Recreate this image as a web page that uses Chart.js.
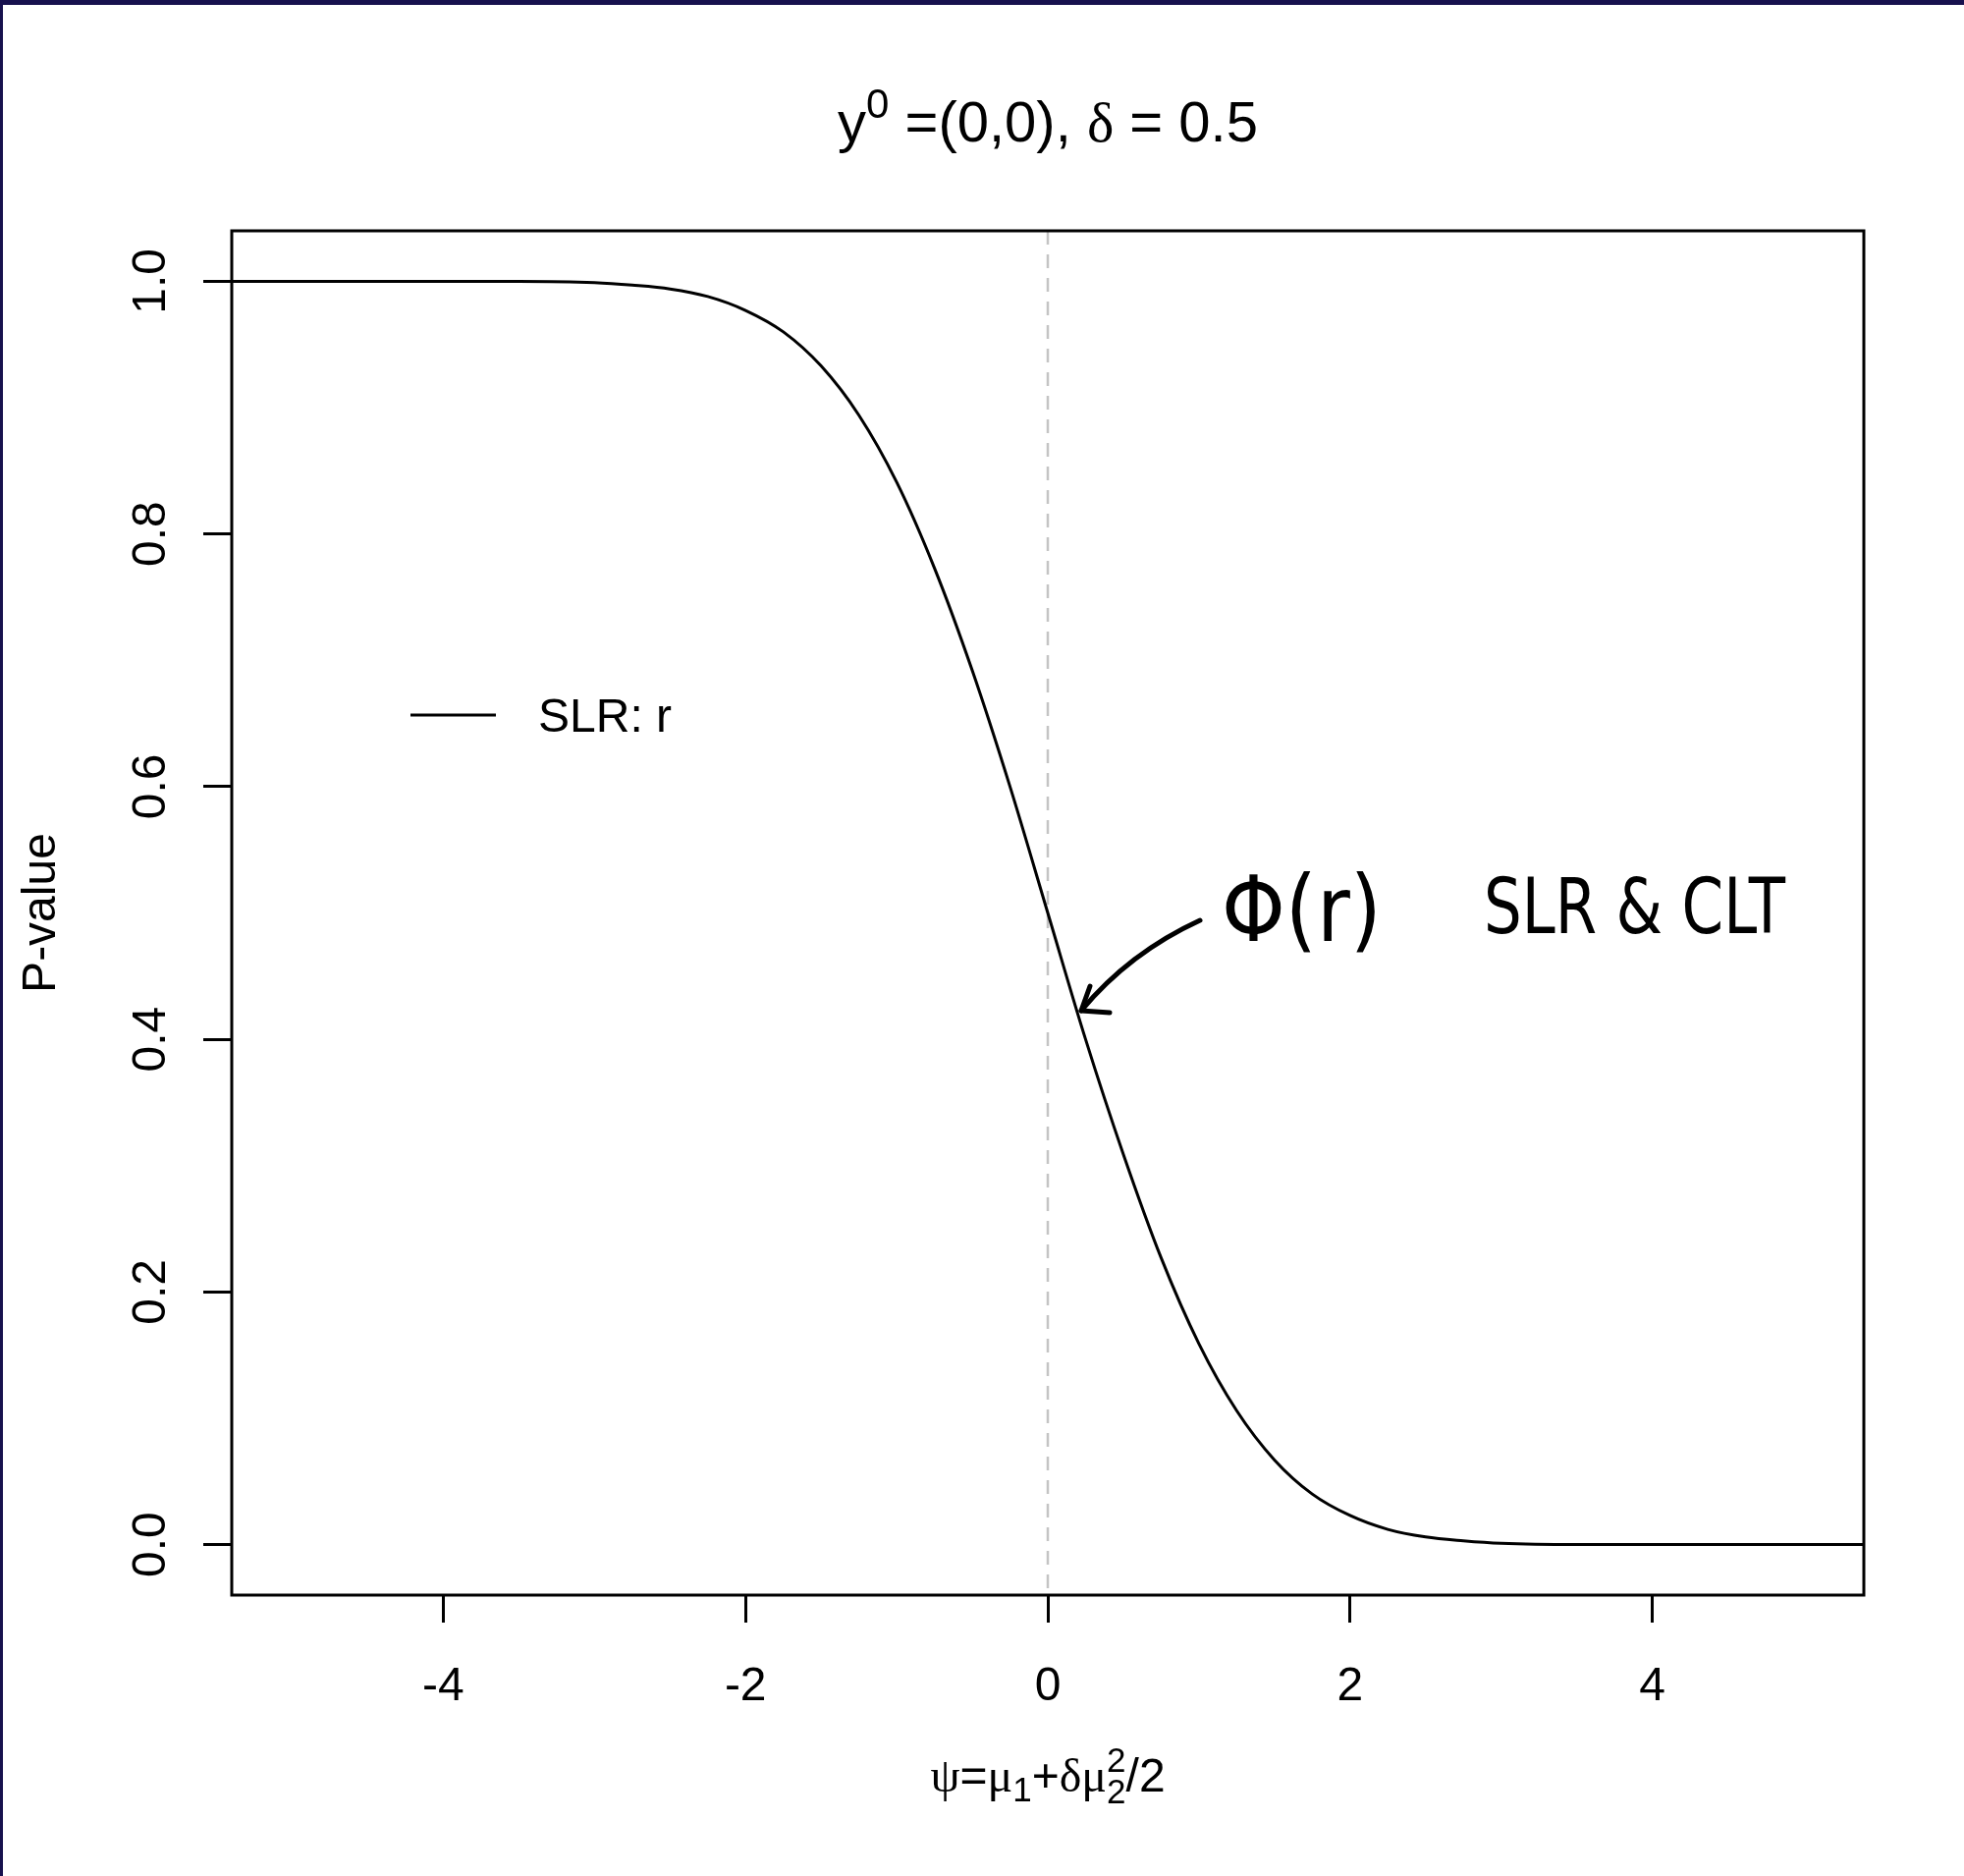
<!DOCTYPE html>
<html>
<head>
<meta charset="utf-8">
<script src="https://cdn.jsdelivr.net/npm/chart.js@4/dist/chart.umd.min.js"></script>
<style>
  html, body { margin: 0; padding: 0; background: #fff; }
  #wrap { width: 2000px; height: 1910px; }
</style>
</head>
<body>
<div id="wrap"><canvas id="pvalChart" width="2000" height="1910"></canvas></div>
<script>
"use strict";

// psi values and the P-value curve
const psi = [-5.4, -5, -4.5, -4, -3.5, -3, -2.75, -2.5, -2.25, -2, -1.75, -1.5, -1.25, -1,
	-0.75, -0.5, -0.25, 0, 0.25, 0.5, 0.75, 1, 1.25, 1.5, 1.75, 2, 2.25, 2.5, 2.75, 3,
	3.5, 4, 4.5, 5, 5.4];
const pValue = [1, 1, 1, 1, 1, 0.999, 0.997, 0.994, 0.988, 0.977, 0.96, 0.933, 0.894, 0.841,
	0.773, 0.692, 0.6, 0.5, 0.4, 0.309, 0.227, 0.159, 0.106, 0.067, 0.04, 0.023, 0.012, 0.006, 0.003, 0.001,
	0, 0, 0, 0, 0];

const xTicks = [-4, -2, 0, 2, 4];
const xTickLabels = ["-4", "-2", "0", "2", "4"];
const yTicks = [0, 0.2, 0.4, 0.6, 0.8, 1];
const yTickLabels = ["0.0", "0.2", "0.4", "0.6", "0.8", "1.0"];
const refLine = 0;
const legendLabel = "SLR: r";
const yTitle = "P-value";
const noteLeft = "\u03A6(r)";
const noteRight = "SLR & CLT";

const SANS = "'Liberation Sans', Arial, sans-serif";
const SERIF = "'Liberation Serif', 'Times New Roman', serif";
const FS = 48;

// draws a run of text pieces centred on cx; pieces may be raised/lowered or stacked
function drawRun(ctx, pieces, cx, baseline) {
	let total = 0;
	for (let p of pieces) {
		ctx.font = p.font;
		p.w = p.stack ? Math.max(...p.stack.map((s) => ctx.measureText(s.t).width)) : ctx.measureText(p.t).width;
		total += p.w;
	}
	let x = cx - total / 2;
	ctx.textAlign = "left";
	ctx.textBaseline = "alphabetic";
	for (let p of pieces) {
		ctx.font = p.font;
		if (p.stack) {
			for (let s of p.stack) ctx.fillText(s.t, x, baseline + s.dy);
		} else {
			ctx.fillText(p.t, x, baseline + (p.dy || 0));
		}
		x += p.w;
	}
}

const decorPlugin = {
	id: "decor",
	beforeDraw(chart) {
		let ctx = chart.ctx;
		ctx.save();
		ctx.fillStyle = "#fff";
		ctx.fillRect(0, 0, chart.width, chart.height);
		ctx.restore();
	},
	beforeDatasetsDraw(chart) {
		let ctx = chart.ctx;
		let a = chart.chartArea;
		let x0 = chart.scales.x.getPixelForValue(refLine);
		ctx.save();
		ctx.strokeStyle = "#c4c4c4";
		ctx.lineWidth = 2.5;
		ctx.setLineDash([14, 10]);
		ctx.beginPath();
		ctx.moveTo(x0, a.top);
		ctx.lineTo(x0, a.bottom);
		ctx.stroke();
		ctx.restore();
	},
	afterDraw(chart) {
		let ctx = chart.ctx;
		let a = chart.chartArea;
		let xs = chart.scales.x;
		let ys = chart.scales.y;
		ctx.save();

		// plot frame
		ctx.strokeStyle = "#000";
		ctx.lineWidth = 3;
		ctx.strokeRect(a.left, a.top, a.right - a.left, a.bottom - a.top);

		ctx.fillStyle = "#000";
		ctx.font = FS + "px " + SANS;

		// x tick labels
		ctx.textAlign = "center";
		ctx.textBaseline = "alphabetic";
		xTicks.forEach((v, i) => ctx.fillText(xTickLabels[i], xs.getPixelForValue(v), 1731));

		// y tick labels, rotated
		yTicks.forEach((v, i) => {
			ctx.save();
			ctx.translate(168, ys.getPixelForValue(v));
			ctx.rotate(-Math.PI / 2);
			ctx.textAlign = "center";
			ctx.fillText(yTickLabels[i], 0, 0);
			ctx.restore();
		});

		// y title
		ctx.save();
		ctx.translate(56, (a.top + a.bottom) / 2);
		ctx.rotate(-Math.PI / 2);
		ctx.textAlign = "center";
		ctx.fillText(yTitle, 0, 0);
		ctx.restore();

		let cx = (a.left + a.right) / 2;
		let small = Math.round(FS * 0.72) + "px " + SANS;

		// x title: psi = mu_1 + delta mu_2^2 / 2
		drawRun(ctx, [
			{ t: "\u03C8", font: FS + "px " + SERIF },
			{ t: "=", font: FS + "px " + SANS },
			{ t: "\u03BC", font: FS + "px " + SERIF },
			{ t: "1", font: small, dy: 10 },
			{ t: "+", font: FS + "px " + SANS },
			{ t: "\u03B4", font: FS + "px " + SERIF },
			{ t: "\u03BC", font: FS + "px " + SERIF },
			{ stack: [{ t: "2", dy: 12 }, { t: "2", dy: -20 }], font: small },
			{ t: "/2", font: FS + "px " + SANS },
		], cx, 1824);

		// main title
		let TF = Math.round(FS * 1.2);
		drawRun(ctx, [
			{ t: "y", font: TF + "px " + SANS },
			{ t: "0", font: Math.round(TF * 0.72) + "px " + SANS, dy: -24 },
			{ t: " =(0,0), ", font: TF + "px " + SANS },
			{ t: "\u03B4", font: TF + "px " + SERIF },
			{ t: " = 0.5", font: TF + "px " + SANS },
		], cx, 144);

		// legend
		ctx.lineWidth = 3;
		ctx.beginPath();
		ctx.moveTo(418, 728);
		ctx.lineTo(505, 728);
		ctx.stroke();
		ctx.font = FS + "px " + SANS;
		ctx.textAlign = "left";
		ctx.fillText(legendLabel, 548, 745);

		// hand-written note with arrow
		ctx.font = "92px 'DejaVu Sans', sans-serif";
		ctx.fillText(noteLeft, 1244, 958, 163);
		ctx.font = "78px 'DejaVu Sans', sans-serif";
		ctx.fillText(noteRight, 1511, 950, 307);
		ctx.lineWidth = 5;
		ctx.lineCap = "round";
		ctx.lineJoin = "round";
		ctx.beginPath();
		ctx.moveTo(1222, 937);
		ctx.quadraticCurveTo(1150, 970, 1101, 1029);
		ctx.stroke();
		ctx.beginPath();
		ctx.moveTo(1110, 1004);
		ctx.lineTo(1101, 1029);
		ctx.lineTo(1130, 1031);
		ctx.stroke();

		// dark frame edge of the original picture
		ctx.fillStyle = "#17114e";
		ctx.fillRect(0, 0, chart.width, 5);
		ctx.fillRect(0, 0, 3, chart.height);

		ctx.restore();
	},
};

let ctx = document.getElementById("pvalChart").getContext("2d");
new Chart(ctx, {
	type: "line",
	data: {
		datasets: [
			{
				label: legendLabel,
				data: psi.map((x, i) => ({ x: x, y: pValue[i] })),
				borderColor: "#000",
				borderWidth: 3,
				pointRadius: 0,
				cubicInterpolationMode: "monotone",
				fill: false,
			},
		],
	},
	options: {
		responsive: false,
		animation: false,
		devicePixelRatio: 1,
		layout: { padding: { left: 0, top: 235, right: 102, bottom: 0 } },
		plugins: {
			legend: { display: false },
			title: { display: false },
			tooltip: { enabled: false },
		},
		scales: {
			x: {
				type: "linear",
				min: -5.4,
				max: 5.4,
				afterBuildTicks: (scale) => { scale.ticks = xTicks.map((v) => ({ value: v })); },
				afterFit: (scale) => { scale.height = 286; },
				ticks: { display: false },
				border: { display: false },
				grid: { drawOnChartArea: false, drawTicks: true, tickLength: 28, color: "#000", lineWidth: 3 },
			},
			y: {
				min: -0.04,
				max: 1.04,
				afterBuildTicks: (scale) => { scale.ticks = yTicks.map((v) => ({ value: v })); },
				afterFit: (scale) => { scale.width = 236; },
				ticks: { display: false },
				border: { display: false },
				grid: { drawOnChartArea: false, drawTicks: true, tickLength: 29, color: "#000", lineWidth: 3 },
			},
		},
	},
	plugins: [decorPlugin],
});
</script>
</body>
</html>
